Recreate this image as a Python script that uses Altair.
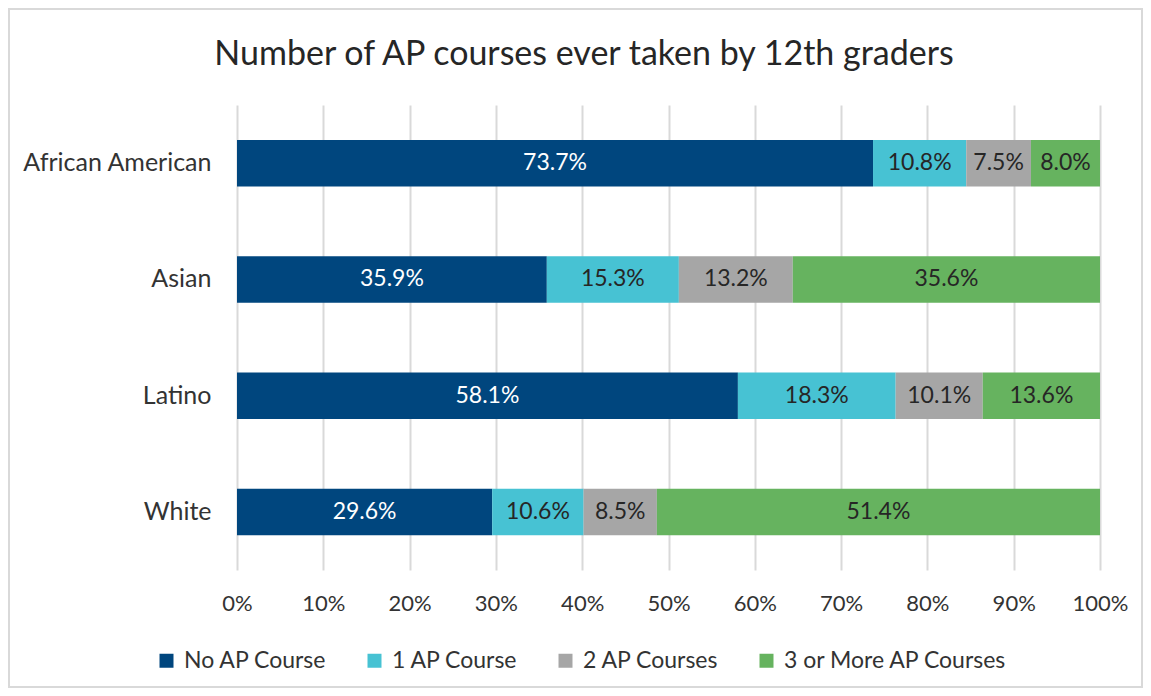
import altair as alt
import pandas as pd

groups = ["African American", "Asian", "Latino", "White"]
categories = ["No AP Course", "1 AP Course", "2 AP Courses", "3 or More AP Courses"]
no_ap = [73.7, 35.9, 58.1, 29.6]
one_ap = [10.8, 15.3, 18.3, 10.6]
two_ap = [7.5, 13.2, 10.1, 8.5]
three_ap = [8.0, 35.6, 13.6, 51.4]
x_ticks = [0, 0.1, 0.2, 0.3, 0.4, 0.5, 0.6, 0.7, 0.8, 0.9, 1.0]
colors = ["#00467E", "#47C2D3", "#A6A6A6", "#66B35F"]
label_colors = ["#FFFFFF", "#262626", "#262626", "#262626"]
title_text = ["Number of AP courses ever taken by 12th graders"]

rows = []
for gi, g in enumerate(groups):
    for ci, (c, vals) in enumerate(zip(categories, [no_ap, one_ap, two_ap, three_ap])):
        rows.append({"group": g, "category": c, "order": ci, "value": vals[gi],
                     "label": f"{vals[gi]:.1f}%", "lcolor": label_colors[ci]})
df = pd.DataFrame(rows)

FONT = "Lato"
W, H = 863, 465
PAD = {"left": 229, "top": 97, "right": 43, "bottom": 118}

base = alt.Chart(df).transform_joinaggregate(
    total="sum(value)", groupby=["group"]
).transform_calculate(
    frac="datum.value / datum.total"
).transform_stack(
    stack="frac", groupby=["group"], sort=[alt.SortField("order", order="ascending")],
    as_=["x0", "x1"]
).transform_calculate(
    mid="(datum.x0 + datum.x1) / 2"
)

y_enc = alt.Y("group:N", sort=groups, title=None,
              scale=alt.Scale(paddingInner=0.6, paddingOuter=0.3),
              axis=alt.Axis(domain=False, ticks=False, labelFont=FONT, labelFontSize=25,
                            labelColor="#333333", labelPadding=26, grid=False,
                            labelLimit=300))

bars = base.mark_bar().encode(
    x=alt.X("x0:Q", title=None, scale=alt.Scale(domain=[0, 1], nice=False),
            axis=alt.Axis(values=x_ticks, format=".0%", domain=False, ticks=False,
                          grid=True, gridColor="#D9D9D9", gridWidth=2,
                          labelFont=FONT, labelFontSize=22, labelColor="#333333",
                          labelPadding=23, labelFlush=False, labelOverlap=False)),
    x2="x1:Q",
    y=y_enc,
    color=alt.Color("category:N", scale=alt.Scale(domain=categories, range=colors),
                    legend=alt.Legend(title=None, orient="none", direction="horizontal",
                                      legendX=-82, legendY=544, padding=0,
                                      symbolType="square",
                                      symbolSize=196, symbolStrokeWidth=0,
                                      labelFont=FONT, labelFontSize=23, labelColor="#333333",
                                      labelOffset=6, columnPadding=36, labelLimit=400)),
)

labels = base.mark_text(font=FONT, fontSize=23).encode(
    x=alt.X("mid:Q"),
    y=alt.Y("group:N", sort=groups),
    text="label:N",
    color=alt.Color("lcolor:N", scale=None),
)

frame = alt.Chart(pd.DataFrame({"a": [0]})).mark_rect(
    filled=False, stroke="#D9D9D9", strokeWidth=2
).encode(
    x=alt.value(-PAD["left"] + 1), x2=alt.value(W + PAD["right"] - 1),
    y=alt.value(-PAD["top"] + 1), y2=alt.value(H + PAD["bottom"] - 1),
)

title = alt.Chart(pd.DataFrame({"t": title_text})).mark_text(
    font=FONT, fontSize=34, color="#262626", align="center", baseline="middle"
).encode(
    text="t:N", x=alt.value(347), y=alt.value(-50),
)

chart = alt.layer(frame, bars, labels, title).properties(
    width=W, height=H,
    padding=PAD,
    autosize=alt.AutoSizeParams(type="none"),
).configure_view(stroke=None)

chart.save("out.html", embed_options={"renderer": "svg", "actions": False})
